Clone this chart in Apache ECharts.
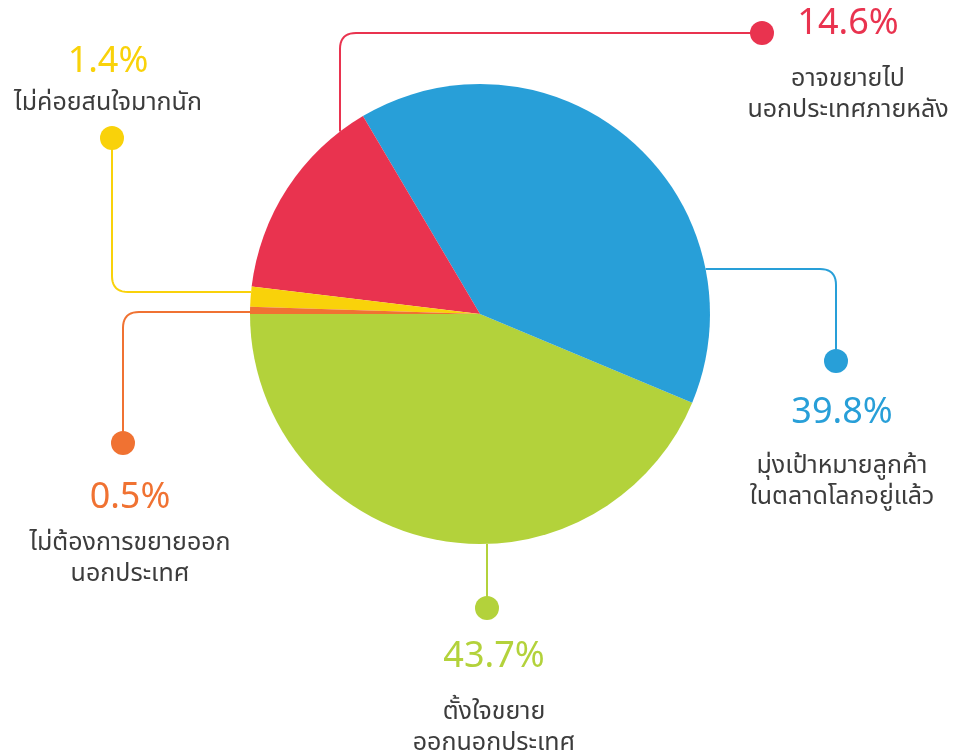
<!DOCTYPE html>
<html>
<head>
<meta charset="utf-8">
<script src="https://cdn.jsdelivr.net/npm/echarts@6/dist/echarts.min.js"></script>
<style>
  html, body { margin: 0; padding: 0; background: #fff; }
  #main { width: 953px; height: 751px; }
</style>
</head>
<body>
<div id="main"></div>
<script>
// data
const names = [
  "ตั้งใจขยาย\nออกนอกประเทศ",
  "มุ่งเป้าหมายลูกค้า\nในตลาดโลกอยู่แล้ว",
  "อาจขยายไป\nนอกประเทศภายหลัง",
  "ไม่ค่อยสนใจมากนัก",
  "ไม่ต้องการขยายออก\nนอกประเทศ",
];
const values = [43.7, 39.8, 14.6, 1.4, 0.5];
const colors = ["#b3d23b", "#289fd8", "#e9334f", "#f9d20a", "#f07232"];

// pie geometry (px)
const cx = 480, cy = 314, R = 230;
function edgeX(y, side) { return cx + side * Math.sqrt(R * R - (y - cy) * (y - cy)); }
function edgeY(x, side) { return cy + side * Math.sqrt(R * R - (x - cx) * (x - cx)); }

// leader lines: start on the pie edge -> corner -> dot
const guides = [
  [[487, edgeY(487, 1)], [487, 608]],
  [[edgeX(269, 1), 269], [836, 269], [836, 361]],
  [[340, edgeY(340, -1)], [340, 33], [762, 33]],
  [[edgeX(292, -1), 292], [112, 292], [112, 138]],
  [[edgeX(312, -1), 312], [123, 312], [123, 443]],
];
// label block: center x, top y, height of the % line
const labelPos = [
  [494, 622, 76],
  [842, 380, 72],
  [848, -11, 76],
  [108, 41, 48],
  [130, 473, 56],
];

// rounded elbow
function elbow(pts, r) {
  if (pts.length < 3) return pts;
  const [p0, p1, p2] = pts;
  const l1 = Math.hypot(p1[0] - p0[0], p1[1] - p0[1]);
  const l2 = Math.hypot(p2[0] - p1[0], p2[1] - p1[1]);
  const a = [p1[0] - (p1[0] - p0[0]) / l1 * r, p1[1] - (p1[1] - p0[1]) / l1 * r];
  const b = [p1[0] + (p2[0] - p1[0]) / l2 * r, p1[1] + (p2[1] - p1[1]) / l2 * r];
  const out = [p0, a];
  for (let i = 1; i < 10; i++) {
    const t = i / 10, u = 1 - t;
    out.push([u * u * a[0] + 2 * u * t * p1[0] + t * t * b[0],
              u * u * a[1] + 2 * u * t * p1[1] + t * t * b[1]]);
  }
  out.push(b, p2);
  return out;
}

const font = "'Noto Sans Thai', 'Noto Sans', 'DejaVu Sans', sans-serif";

const chart = echarts.init(document.getElementById("main"));
const option = {
  backgroundColor: "#fff",
  animation: false,
  graphic: guides.map((g, i) => ({
    type: "circle",
    z: 100,
    shape: { cx: g[g.length - 1][0], cy: g[g.length - 1][1], r: 12 },
    style: { fill: colors[i] },
  })),
  series: [
    {
      type: "pie",
      center: [cx, cy],
      radius: R,
      startAngle: 180,
      clockwise: false,
      avoidLabelOverlap: false,
      itemStyle: { borderWidth: 0 },
      label: {
        show: true,
        position: "outer",
        fontFamily: font,
        formatter: (p) => "{pct|" + p.value + "%}\n{name|" + p.name + "}",
        rich: {
          pct: { fontSize: 36, fontFamily: font, lineHeight: 60 },
          name: { fontSize: 25, fontFamily: font, color: "#3c3c3c", lineHeight: 31 },
        },
      },
      labelLine: { show: true, lineStyle: { width: 2 } },
      labelLayout: (params) => {
        const i = params.dataIndex;
        return {
          x: labelPos[i][0],
          y: labelPos[i][1],
          align: "center",
          verticalAlign: "top",
          labelLinePoints: elbow(guides[i], 16),
        };
      },
      emphasis: { disabled: true },
      data: values.map((v, i) => ({
        value: v,
        name: names[i],
        itemStyle: { color: colors[i] },
        label: { rich: { pct: { color: colors[i], lineHeight: labelPos[i][2] } } },
        labelLine: { lineStyle: { color: colors[i] } },
      })),
    },
  ],
};
chart.setOption(option);
</script>
</body>
</html>
